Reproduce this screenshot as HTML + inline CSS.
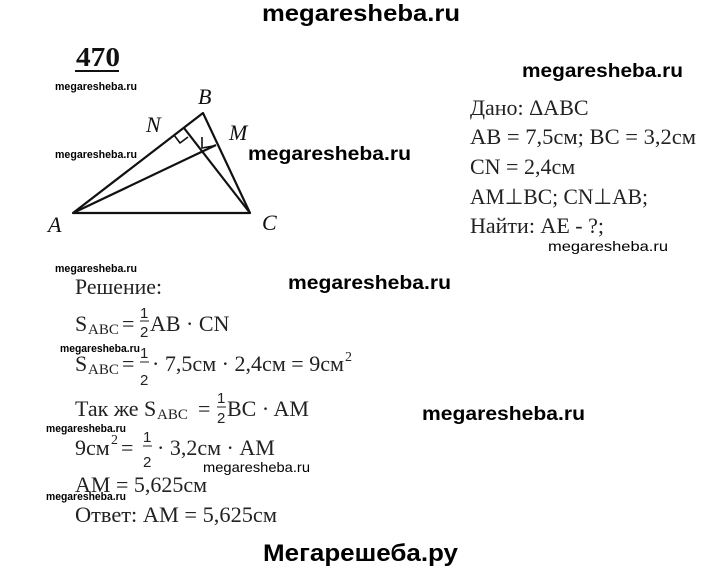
<!DOCTYPE html>
<html><head><meta charset="utf-8"><style>
html,body{margin:0;padding:0;background:#fff;}
svg{display:block;}
.t{font-family:"Liberation Serif",serif;font-size:22px;fill:#222;}
.w{font-family:"Liberation Sans",sans-serif;font-weight:bold;fill:#000;}
.f{font-family:"Liberation Sans",sans-serif;font-size:15px;fill:#222;}
.s{font-family:"Liberation Serif",serif;font-size:15px;fill:#222;}
.l{font-family:"Liberation Serif",serif;font-style:italic;font-size:22px;fill:#111;}
.sup{font-family:"Liberation Serif",serif;font-size:14px;fill:#222;}
</style></head><body>
<svg width="720" height="571" viewBox="0 0 720 571" xmlns="http://www.w3.org/2000/svg">
<text class="w" x="262" y="21" style="font-size:23px" textLength="198" lengthAdjust="spacingAndGlyphs">megaresheba.ru</text>
<text class="w" x="263" y="561" style="font-size:24px" textLength="195" lengthAdjust="spacingAndGlyphs">Мегарешеба.ру</text>

<text x="76" y="66" font-family="Liberation Serif,serif" font-weight="bold" font-size="27" fill="#111" textLength="44" lengthAdjust="spacingAndGlyphs">470</text>
<line x1="75" y1="71" x2="119" y2="71" stroke="#111" stroke-width="2"/>

<g stroke="#111" stroke-width="2.2" fill="none" stroke-linejoin="round">
<polygon points="73,213 203,113 250,213"/>
<line x1="250" y1="213" x2="184" y2="128"/>
<line x1="73" y1="213" x2="216" y2="145"/>
<polyline points="174,135 180,143 188,137" stroke-width="1.6"/>
<polyline points="202,137 202,148 213,146" stroke-width="1.6"/>
</g>
<text class="l" x="48" y="232">A</text>
<text class="l" x="198" y="104">B</text>
<text class="l" x="262" y="230">C</text>
<text class="l" x="146" y="132">N</text>
<text class="l" x="229" y="140">M</text>

<text class="t" x="470" y="115">Дано: ΔABC</text>
<text class="t" x="470" y="144" textLength="226" lengthAdjust="spacingAndGlyphs">AB = 7,5см; BC = 3,2см</text>
<text class="t" x="470" y="174">CN = 2,4см</text>
<text class="t" x="470" y="204" textLength="178" lengthAdjust="spacingAndGlyphs">AM⊥BC; CN⊥AB;</text>
<text class="t" x="470" y="233">Найти: AE - ?;</text>

<text class="t" x="75" y="294" textLength="87" lengthAdjust="spacingAndGlyphs">Решение:</text>

<text class="t" x="75" y="331">S</text><text class="s" x="88" y="334">ABC</text>
<text class="t" x="122" y="331">=</text>
<text class="f" x="140" y="318">1</text><line x1="140" y1="321" x2="149" y2="321" stroke="#222"/><text class="f" x="140" y="337">2</text>
<text class="t" x="150" y="331">AB · CN</text>

<text class="t" x="75" y="371">S</text><text class="s" x="88" y="374">ABC</text>
<text class="t" x="122" y="371">=</text>
<text class="f" x="140" y="358">1</text><line x1="140" y1="362" x2="149" y2="362" stroke="#222"/><text class="f" x="140" y="385">2</text>
<text class="t" x="152" y="371" textLength="192" lengthAdjust="spacingAndGlyphs">· 7,5см · 2,4см = 9см</text>
<text class="sup" x="345" y="361">2</text>

<text class="t" x="75" y="416">Так же S</text><text class="s" x="157" y="419">ABC</text>
<text class="t" x="198" y="416">=</text>
<text class="f" x="217" y="403">1</text><line x1="217" y1="407" x2="226" y2="407" stroke="#222"/><text class="f" x="217" y="423">2</text>
<text class="t" x="227" y="416">BC · AM</text>

<text class="t" x="75" y="455">9см</text><text class="sup" x="111" y="444">2</text>
<text class="t" x="121" y="455">=</text>
<text class="f" x="143" y="442">1</text><line x1="143" y1="446" x2="152" y2="446" stroke="#222"/><text class="f" x="143" y="467">2</text>
<text class="t" x="157" y="455">· 3,2см · AM</text>

<text class="t" x="75" y="492">AM = 5,625см</text>
<text class="t" x="75" y="522" textLength="202" lengthAdjust="spacingAndGlyphs">Ответ: AM = 5,625см</text>

<text class="w" x="522" y="77" style="font-size:19px" textLength="161" lengthAdjust="spacingAndGlyphs">megaresheba.ru</text>
<text class="w" x="55" y="90" style="font-size:11px" textLength="82" lengthAdjust="spacingAndGlyphs">megaresheba.ru</text>
<text class="w" x="55" y="158" style="font-size:11px" textLength="82" lengthAdjust="spacingAndGlyphs">megaresheba.ru</text>
<text class="w" x="248" y="160" style="font-size:19px" textLength="163" lengthAdjust="spacingAndGlyphs">megaresheba.ru</text>
<text class="w" x="548" y="251" style="font-size:14px;font-weight:normal" textLength="120" lengthAdjust="spacingAndGlyphs">megaresheba.ru</text>
<text class="w" x="55" y="272" style="font-size:11px" textLength="82" lengthAdjust="spacingAndGlyphs">megaresheba.ru</text>
<text class="w" x="288" y="289" style="font-size:19px" textLength="163" lengthAdjust="spacingAndGlyphs">megaresheba.ru</text>
<text class="w" x="60" y="352" style="font-size:11px" textLength="80" lengthAdjust="spacingAndGlyphs">megaresheba.ru</text>
<text class="w" x="422" y="420" style="font-size:19px" textLength="163" lengthAdjust="spacingAndGlyphs">megaresheba.ru</text>
<text class="w" x="46" y="432" style="font-size:11px" textLength="80" lengthAdjust="spacingAndGlyphs">megaresheba.ru</text>
<text class="w" x="203" y="472" style="font-size:14px;font-weight:normal" textLength="107" lengthAdjust="spacingAndGlyphs">megaresheba.ru</text>
<text class="w" x="46" y="500" style="font-size:11px" textLength="80" lengthAdjust="spacingAndGlyphs">megaresheba.ru</text>
</svg>
</body></html>
